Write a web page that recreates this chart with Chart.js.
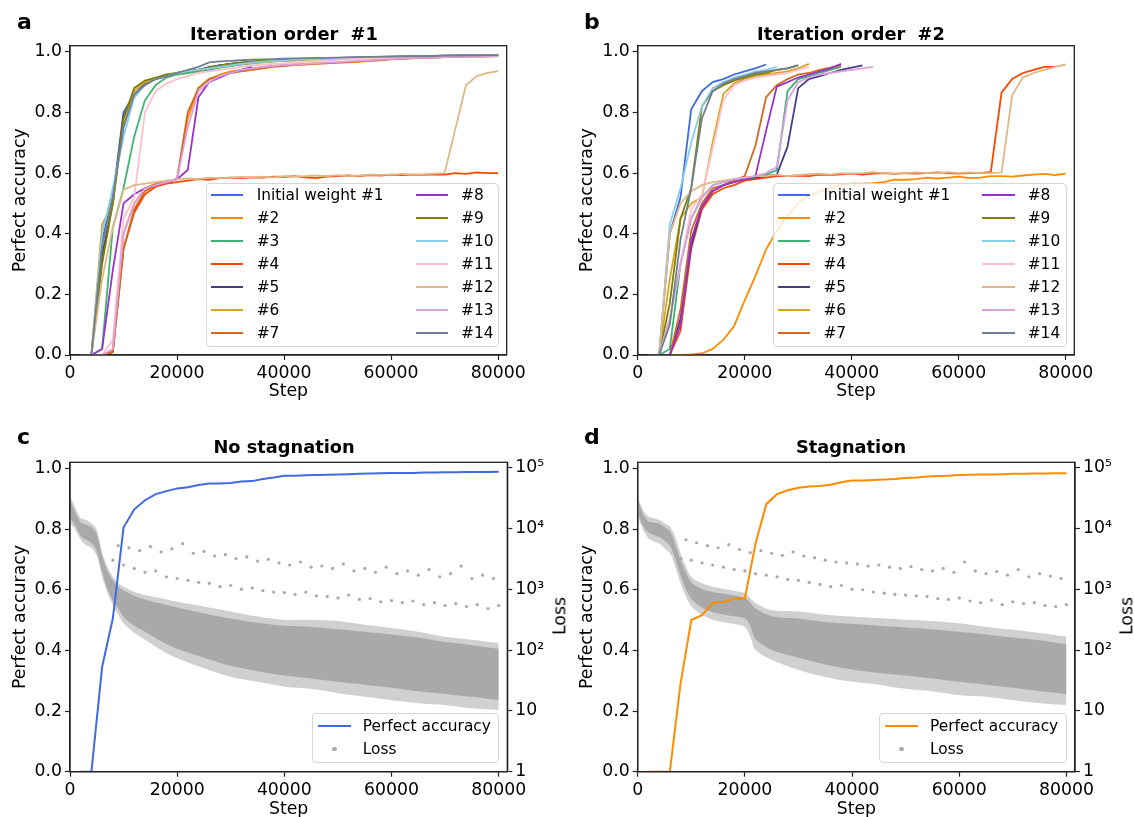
<!DOCTYPE html>
<html lang="en">
<head>
<meta charset="UTF-8">
<title>Perfect accuracy over training steps</title>
<script src="https://cdn.jsdelivr.net/npm/chart.js"></script>
<style>
    body {
        margin: 0;
        width: 1134px;
        height: 817px;
        overflow: hidden;
        position: relative;
        background: #fff;
        font-family: 'DejaVu Sans', sans-serif;
        color: #000;
    }
    canvas { position: absolute; }
    .letter { position: absolute; font-weight: bold; font-size: 22px; line-height: 1; }
    .title { position: absolute; font-weight: bold; font-size: 17.8px; line-height: 1; white-space: pre; transform: translateX(-50%); }
    .ylab2 { position: absolute; font-size: 17.3px; line-height: 1; transform: translate(-50%, -50%) rotate(-90deg); }
    .legend { position: absolute; box-sizing: border-box; background: rgba(255,255,255,0.8); border: 1px solid #d6d6d6; border-radius: 4px; z-index: 2; }
    .legend span { position: absolute; font-size: 15.4px; line-height: 1; white-space: pre; }
    .legend i { position: absolute; height: 2px; }
    .legend b { position: absolute; width: 4.4px; height: 4.4px; border-radius: 50%; background: #a9a9a9; }
</style>
</head>
<body>
<canvas id="ca" width="567" height="410" style="left:0;top:0"></canvas>
<canvas id="cb" width="567" height="410" style="left:567px;top:0"></canvas>
<canvas id="cc" width="567" height="410" style="left:0;top:410px"></canvas>
<canvas id="cd" width="567" height="410" style="left:567px;top:410px"></canvas>

<div class="letter" style="left:17px;top:10.5px">a</div>
<div class="letter" style="left:584px;top:10.5px">b</div>
<div class="letter" style="left:17px;top:426px">c</div>
<div class="letter" style="left:584px;top:426px">d</div>

<div class="title" style="left:284px;top:25px">Iteration order  #1</div>
<div class="title" style="left:851px;top:25px">Iteration order  #2</div>
<div class="title" style="left:284px;top:438px">No stagnation</div>
<div class="title" style="left:851px;top:438px">Stagnation</div>

<div class="ylab2" style="left:560px;top:616px">Loss</div>
<div class="ylab2" style="left:1127px;top:616px">Loss</div>

<script>
// evaluation steps (every 2000)
const steps = [2000, 4000, 6000, 8000, 10000, 12000, 14000, 16000, 18000, 20000,
    22000, 24000, 26000, 28000, 30000, 32000, 34000, 36000, 38000, 40000,
    42000, 44000, 46000, 48000, 50000, 52000, 54000, 56000, 58000, 60000,
    62000, 64000, 66000, 68000, 70000, 72000, 74000, 76000, 78000, 80000];

const xTicks = [0, 20000, 40000, 60000, 80000];
const yTicks = [0, 0.2, 0.4, 0.6, 0.8, 1.0];
const lossTicks = [1, 10, 100, 1000, 10000, 100000];
const lossTickLabels = ['1', '10', '10²', '10³', '10⁴', '10⁵'];

const names = ['Initial weight #1', '#2', '#3', '#4', '#5', '#6', '#7',
    '#8', '#9', '#10', '#11', '#12', '#13', '#14'];
const colors = ['#4169e1', '#ff8c00', '#3cb371', '#ff4500', '#483d8b', '#daa520', '#d2691e',
    '#9932cc', '#808000', '#87ceeb', '#ffc0cb', '#deb887', '#dda0dd', '#708090'];

// ---- panel a: iteration order #1 ----
const a1 = [0, 0, 0.38, 0.52, 0.80, 0.86, 0.895, 0.91, 0.92, 0.93, 0.935, 0.94, 0.95, 0.955, 0.96, 0.963, 0.966, 0.968, 0.97, 0.972, 0.974, 0.976, 0.977, 0.978, 0.979, 0.98, 0.981, 0.982, 0.983, 0.984, 0.985, 0.985, 0.986, 0.986, 0.987, 0.988, 0.988, 0.989, 0.989, 0.99];
const a2 = [0, 0, 0, 0.01, 0.40, 0.50, 0.55, 0.565, 0.57, 0.58, 0.78, 0.88, 0.91, 0.925, 0.935, 0.94, 0.945, 0.95, 0.953, 0.956, 0.958, 0.96, 0.962, 0.963, 0.964, 0.965, 0.967, 0.97, 0.973, 0.976, 0.978, 0.979, 0.98, 0.981, 0.982, 0.983, 0.984, 0.985, 0.985, 0.986];
const a3 = [0, 0, 0.02, 0.42, 0.55, 0.72, 0.84, 0.89, 0.915, 0.925, 0.93, 0.935, 0.94, 0.948, 0.953, 0.958, 0.962, 0.965, 0.968, 0.97, 0.972, 0.974, 0.975, 0.976, 0.977, 0.978, 0.979, 0.98, 0.981, 0.982, 0.983, 0.983, 0.984, 0.985, 0.985, 0.986, 0.987, 0.987, 0.988, 0.988];
const a4 = [0, 0, 0, 0.01, 0.35, 0.47, 0.53, 0.555, 0.565, 0.57, 0.575, 0.58, 0.578, 0.583, 0.585, 0.583, 0.586, 0.585, 0.588, 0.587, 0.59, 0.586, 0.583, 0.588, 0.59, 0.592, 0.59, 0.593, 0.592, 0.595, 0.593, 0.595, 0.594, 0.596, 0.595, 0.6, 0.597, 0.602, 0.6, 0.6];
const a5 = [0, 0, 0.33, 0.50, 0.79, 0.85, 0.895, 0.91, 0.92, 0.93, 0.935, 0.94, 0.948, 0.955, 0.96, 0.964, 0.967, 0.97, 0.972, 0.974, 0.975, 0.976, 0.977, 0.978, 0.979, 0.98, 0.981, 0.982, 0.983, 0.983, 0.984, 0.985, 0.985, 0.986, 0.986, 0.987, 0.987, 0.988, 0.988, 0.989];
const a6 = [0, 0, 0.43, 0.50, 0.76, 0.87, 0.90, 0.91, 0.92, 0.93, 0.935, 0.94, 0.945, 0.95, 0.955, 0.96, 0.963, 0.966, 0.968, 0.97, 0.972, 0.974, 0.975, 0.976, 0.977, 0.978, 0.979, 0.98, 0.981, 0.982, 0.983, 0.983, 0.984, 0.985, 0.985, 0.986, 0.986, 0.987, 0.988, 0.988];
const a7 = [0, 0, 0, 0.01, 0.35, 0.48, 0.54, 0.56, 0.57, 0.58, 0.80, 0.88, 0.91, 0.92, 0.93, 0.935, 0.94, 0.945, 0.95, 0.953, 0.956, 0.958, 0.96, 0.962, 0.964, 0.966, 0.968, 0.97, 0.972, 0.975, 0.977, 0.978, 0.98, 0.981, 0.982, 0.983, 0.984, 0.984, 0.985, 0.986];
const a8 = [0, 0, 0.02, 0.28, 0.50, 0.53, 0.55, 0.56, 0.57, 0.58, 0.61, 0.85, 0.90, 0.915, 0.93, 0.94, 0.95];
const a9 = [0, 0, 0.30, 0.50, 0.78, 0.88, 0.905, 0.915, 0.925, 0.93, 0.935, 0.94, 0.948, 0.955, 0.96, 0.964, 0.967, 0.97, 0.972, 0.974, 0.975, 0.976, 0.977, 0.978, 0.979, 0.98, 0.981, 0.982, 0.983, 0.984, 0.984, 0.985, 0.986, 0.986, 0.987, 0.987, 0.988, 0.988, 0.989, 0.989];
const a10 = [0, 0, 0.40, 0.55, 0.72, 0.85, 0.89, 0.91, 0.92, 0.93, 0.935, 0.94, 0.945, 0.95, 0.955, 0.96, 0.964, 0.967, 0.97, 0.972, 0.974, 0.975, 0.976, 0.977, 0.978, 0.979, 0.98, 0.981, 0.982, 0.983, 0.984, 0.984, 0.985, 0.986, 0.986, 0.987, 0.988, 0.988, 0.989, 0.99];
const a11 = [0, 0, 0, 0.05, 0.45, 0.52, 0.80, 0.87, 0.895, 0.91, 0.92, 0.93, 0.935, 0.94, 0.945, 0.95, 0.955, 0.958, 0.96, 0.962, 0.965, 0.967, 0.969, 0.971, 0.973, 0.975, 0.977, 0.978, 0.979, 0.98, 0.981, 0.982, 0.983, 0.983, 0.984, 0.985, 0.985, 0.986, 0.986, 0.987];
const a12 = [0, 0, 0.25, 0.42, 0.545, 0.56, 0.565, 0.57, 0.575, 0.58, 0.582, 0.58, 0.585, 0.583, 0.585, 0.587, 0.585, 0.588, 0.586, 0.59, 0.588, 0.59, 0.592, 0.59, 0.593, 0.59, 0.592, 0.595, 0.594, 0.595, 0.597, 0.595, 0.596, 0.598, 0.6, 0.745, 0.89, 0.92, 0.93, 0.936];
const a13 = [0, 0, 0, 0.02, 0.40, 0.50, 0.55, 0.56, 0.57, 0.58, 0.75, 0.87, 0.90, 0.92, 0.93, 0.94, 0.945, 0.95, 0.953, 0.956, 0.958, 0.96, 0.962, 0.964, 0.966, 0.968, 0.97, 0.972, 0.974, 0.976, 0.978, 0.979, 0.98, 0.981, 0.982, 0.983, 0.984, 0.984, 0.985, 0.986];
const a14 = [0, 0, 0.36, 0.52, 0.75, 0.86, 0.89, 0.91, 0.92, 0.93, 0.94, 0.95, 0.965, 0.968, 0.97, 0.972, 0.974, 0.975, 0.976, 0.977, 0.978, 0.979, 0.98, 0.98, 0.981, 0.982, 0.982, 0.983, 0.984, 0.984, 0.985, 0.985, 0.986, 0.986, 0.987, 0.987, 0.988, 0.988, 0.989, 0.989];

// ---- panel b: iteration order #2 (runs stop at different steps) ----
const b1 = [0, 0, 0.40, 0.52, 0.81, 0.87, 0.90, 0.91, 0.925, 0.935, 0.945, 0.958];
const b2 = [0, 0, 0, 0, 0.002, 0.005, 0.02, 0.05, 0.095, 0.18, 0.26, 0.348, 0.41, 0.46, 0.50, 0.525, 0.54, 0.55, 0.56, 0.565, 0.565, 0.567, 0.57, 0.578, 0.578, 0.58, 0.585, 0.582, 0.585, 0.588, 0.583, 0.585, 0.59, 0.59, 0.588, 0.592, 0.595, 0.597, 0.593, 0.598];
const b3 = [0, 0, 0.02, 0.30, 0.45, 0.52, 0.56, 0.57, 0.575, 0.58, 0.59, 0.595, 0.61, 0.87, 0.91, 0.92, 0.93, 0.94, 0.95];
const b4 = [0, 0, 0, 0.08, 0.35, 0.48, 0.53, 0.55, 0.56, 0.575, 0.58, 0.585, 0.59, 0.59, 0.592, 0.59, 0.595, 0.593, 0.596, 0.598, 0.595, 0.598, 0.60, 0.597, 0.60, 0.598, 0.60, 0.602, 0.60, 0.598, 0.60, 0.60, 0.604, 0.865, 0.91, 0.93, 0.94, 0.95, 0.95];
const b5 = [0, 0, 0, 0.12, 0.36, 0.49, 0.54, 0.56, 0.57, 0.58, 0.585, 0.59, 0.595, 0.687, 0.88, 0.91, 0.92, 0.93, 0.94, 0.948, 0.955];
const b6 = [0, 0, 0.25, 0.45, 0.50, 0.52, 0.70, 0.86, 0.895, 0.91, 0.92, 0.925, 0.93, 0.935, 0.945, 0.96];
const b7 = [0, 0, 0, 0.15, 0.41, 0.50, 0.55, 0.56, 0.575, 0.59, 0.69, 0.85, 0.89, 0.91, 0.925, 0.93, 0.94, 0.948, 0.955];
const b8 = [0, 0, 0, 0.10, 0.38, 0.49, 0.54, 0.56, 0.57, 0.58, 0.59, 0.74, 0.885, 0.90, 0.915, 0.925, 0.935, 0.945, 0.96];
const b9 = [0, 0, 0.17, 0.45, 0.55, 0.82, 0.87, 0.89, 0.905, 0.915, 0.925, 0.93, 0.94, 0.945, 0.955];
const b10 = [0, 0, 0.43, 0.55, 0.70, 0.82, 0.88, 0.90, 0.915, 0.925, 0.935, 0.94, 0.95];
const b11 = [0, 0, 0.12, 0.30, 0.48, 0.53, 0.68, 0.84, 0.89, 0.905, 0.915, 0.92, 0.925, 0.93, 0.94, 0.95];
const b12 = [0, 0, 0.40, 0.50, 0.54, 0.56, 0.57, 0.575, 0.58, 0.585, 0.59, 0.59, 0.595, 0.59, 0.593, 0.596, 0.598, 0.595, 0.60, 0.598, 0.60, 0.603, 0.60, 0.598, 0.60, 0.602, 0.60, 0.60, 0.603, 0.60, 0.602, 0.60, 0.60, 0.602, 0.857, 0.915, 0.93, 0.94, 0.95, 0.958];
const b13 = [0, 0, 0.12, 0.30, 0.45, 0.52, 0.56, 0.57, 0.58, 0.585, 0.59, 0.60, 0.62, 0.84, 0.90, 0.915, 0.925, 0.93, 0.935, 0.94, 0.945, 0.95];
const b14 = [0, 0, 0.10, 0.38, 0.55, 0.78, 0.87, 0.895, 0.91, 0.92, 0.93, 0.935, 0.94, 0.945, 0.956];

// ---- panels c / d: accuracy of one run ----
const accC = [0, 0, 0.346, 0.506, 0.806, 0.865, 0.895, 0.915, 0.925, 0.934, 0.938, 0.945, 0.95, 0.95, 0.952, 0.957, 0.958, 0.965, 0.97, 0.976, 0.976, 0.977, 0.978, 0.979, 0.98, 0.981, 0.982, 0.983, 0.984, 0.985, 0.985, 0.985, 0.986, 0.986, 0.987, 0.987, 0.988, 0.988, 0.988, 0.989];
const accD = [0, 0, 0, 0.291, 0.50, 0.516, 0.557, 0.56, 0.57, 0.572, 0.753, 0.882, 0.915, 0.928, 0.936, 0.94, 0.942, 0.946, 0.954, 0.96, 0.96, 0.962, 0.963, 0.965, 0.968, 0.97, 0.973, 0.975, 0.976, 0.978, 0.979, 0.98, 0.98, 0.981, 0.982, 0.982, 0.983, 0.983, 0.984, 0.984];

// loss cloud, read as envelopes of the dense band (outer = sparse edge, inner = solid core)
const lossStepsC = [0, 1000, 2000, 3000, 4000, 5000, 6000, 7000, 8000, 9000, 10000, 12000, 14000, 17000, 20000, 25000, 30000, 35000, 40000, 45000, 50000, 55000, 60000, 65000, 70000, 75000, 80000];
const outerHiC = [35000, 22000, 14800, 13800, 12000, 9500, 4000, 2350, 1600, 1250, 1100, 910, 800, 710, 620, 520, 430, 355, 315, 315, 300, 260, 230, 200, 165, 148, 130];
const outerLoC = [12000, 9500, 6500, 5300, 4800, 3500, 1600, 860, 550, 380, 275, 190, 148, 100, 73, 50, 36, 30, 25, 23, 19.5, 17, 15, 13.4, 12.5, 11, 10.3];
const innerHiC = [30000, 18000, 12500, 11500, 10500, 8000, 3500, 2000, 1400, 1100, 950, 780, 680, 580, 500, 400, 330, 280, 250, 240, 220, 200, 180, 160, 135, 120, 105];
const innerLoC = [15000, 11000, 7500, 6500, 5800, 4200, 1900, 1000, 650, 480, 350, 250, 200, 140, 105, 75, 55, 45, 38, 34, 30, 27, 24, 21, 19, 17, 15];

const lossStepsD = [0, 1000, 2000, 3000, 4000, 5000, 6000, 7000, 8000, 9000, 10000, 12000, 14000, 17000, 20000, 21000, 22000, 25000, 30000, 35000, 40000, 45000, 50000, 55000, 60000, 65000, 70000, 75000, 80000];
const outerHiD = [33000, 20000, 15700, 14800, 13800, 12200, 10700, 7300, 3900, 2350, 1600, 1250, 1100, 980, 860, 710, 590, 455, 430, 380, 355, 335, 315, 300, 275, 240, 215, 190, 165];
const outerLoD = [15700, 9500, 6900, 6100, 5700, 4700, 3900, 2350, 1250, 750, 520, 380, 315, 275, 240, 165, 100, 69, 47, 36, 30, 27, 23, 21, 18, 17, 15, 13.4, 12.5];
const innerHiD = [30000, 17000, 13000, 12500, 12000, 10500, 9000, 5500, 3000, 1900, 1300, 1000, 900, 820, 720, 600, 480, 360, 330, 290, 270, 250, 235, 220, 200, 180, 160, 145, 125];
const innerLoD = [18000, 11000, 8500, 7800, 7200, 6300, 5200, 3200, 1700, 1000, 700, 500, 420, 370, 330, 250, 150, 100, 75, 58, 48, 42, 38, 34, 30, 27, 24, 21, 19];

// sparse outlier losses, two bands above the main cloud
const sparseHiSteps = [9000, 11000, 13000, 15000, 17000, 19000, 21000, 23000, 25000, 27000, 29000, 31000, 33000, 35000, 37000, 39000, 41000, 43000, 45000, 47000, 49000, 51000, 53000, 55000, 57000, 59000, 61000, 63000, 65000, 67000, 69000, 71000, 73000, 75000, 77000, 79000];
const sparseLoSteps = [8000, 10000, 12000, 14000, 16000, 18000, 20000, 22000, 24000, 26000, 28000, 30000, 32000, 34000, 36000, 38000, 40000, 42000, 44000, 46000, 48000, 50000, 52000, 54000, 56000, 58000, 60000, 62000, 64000, 66000, 68000, 70000, 72000, 74000, 76000, 78000, 80000];
const sparseHiC = [5200, 4800, 4300, 5000, 4100, 4600, 5600, 3900, 4200, 3500, 3700, 3200, 3400, 2900, 3100, 2700, 2500, 2800, 2300, 2400, 2200, 2600, 2000, 2200, 1900, 2300, 1800, 2000, 1700, 2100, 1600, 1800, 2400, 1500, 1700, 1500];
const sparseLoC = [3000, 2500, 2200, 1900, 2000, 1600, 1500, 1400, 1300, 1250, 1100, 1150, 1000, 1050, 950, 900, 880, 820, 900, 780, 760, 720, 800, 680, 700, 620, 650, 600, 640, 560, 600, 540, 580, 520, 560, 480, 540];
const sparseHiD = [6500, 5800, 5200, 4800, 5400, 4500, 4000, 4300, 3900, 3600, 4100, 3500, 3300, 3000, 2800, 2700, 2600, 2400, 2500, 2300, 2200, 2350, 2100, 2000, 2200, 1900, 2800, 2000, 1800, 1950, 1700, 2100, 1600, 1800, 1650, 1500];
const sparseLoD = [3200, 3000, 2700, 2500, 2300, 2100, 2000, 1800, 1700, 1600, 1450, 1400, 1300, 1200, 1100, 1150, 1000, 980, 900, 860, 820, 800, 780, 760, 700, 680, 720, 640, 600, 660, 560, 620, 580, 600, 540, 520, 560];

const seriesA = [a1, a2, a3, a4, a5, a6, a7, a8, a9, a10, a11, a12, a13, a14];
const seriesB = [b1, b2, b3, b4, b5, b6, b7, b8, b9, b10, b11, b12, b13, b14];

Chart.defaults.font.family = "'DejaVu Sans', sans-serif";
Chart.defaults.color = '#000';

const TICK = 17.3;
const SPINE = '#222';

const boxPlugin = {
    id: 'box',
    afterDraw(chart) {
        const {ctx, chartArea: a} = chart;
        ctx.save();
        ctx.strokeStyle = SPINE;
        ctx.lineWidth = 1.3;
        ctx.strokeRect(a.left, a.top, a.right - a.left, a.bottom - a.top);
        ctx.restore();
    }
};

function gridOpts() {
    return { drawOnChartArea: false, drawTicks: true, tickLength: 5, tickColor: SPINE, tickWidth: 1.2 };
}

function xScale(h, pad) {
    return {
        type: 'linear', min: 0, max: 81600,
        afterBuildTicks: s => { s.ticks = xTicks.map(v => ({ value: v })); },
        afterFit: s => { s.height = h; },
        ticks: { font: { size: TICK }, padding: 3, autoSkip: false, maxRotation: 0, callback: v => String(v) },
        grid: gridOpts(),
        border: { display: true, color: SPINE, width: 1.3 },
        title: { display: true, text: 'Step', font: { size: TICK }, padding: { top: 0, bottom: pad } }
    };
}

function yScale(w) {
    return {
        type: 'linear', min: 0, max: 1.02, position: 'left',
        afterBuildTicks: s => { s.ticks = yTicks.map(v => ({ value: v })); },
        afterFit: s => { s.width = w; },
        ticks: { font: { size: TICK }, padding: 3, autoSkip: false, callback: v => v.toFixed(1) },
        grid: gridOpts(),
        border: { display: true, color: SPINE, width: 1.3 },
        title: { display: true, text: 'Perfect accuracy', font: { size: TICK }, padding: { top: 10, bottom: 0 } }
    };
}

function lossScale(w) {
    return {
        type: 'logarithmic', min: 1, max: 122000, position: 'right',
        afterBuildTicks: s => { s.ticks = lossTicks.map(v => ({ value: v, major: true })); },
        afterFit: s => { s.width = w; },
        ticks: { font: { size: TICK }, padding: 3, autoSkip: false, callback: v => lossTickLabels[lossTicks.indexOf(v)] },
        grid: gridOpts(),
        border: { display: true, color: SPINE, width: 1.3 }
    };
}

function lineSet(arr, color, order) {
    return {
        data: arr.map((v, i) => ({ x: steps[i], y: v })),
        borderColor: color, backgroundColor: color,
        borderWidth: 1.8, pointRadius: 0, tension: 0, fill: false,
        order: order, yAxisID: 'y'
    };
}

function bandSet(xs, ys, fill, color) {
    return {
        data: ys.map((v, i) => ({ x: xs[i], y: v })),
        borderColor: 'transparent', borderWidth: 0, pointRadius: 0, tension: 0.3,
        backgroundColor: color, fill: fill, order: 3, yAxisID: 'y2'
    };
}

function dotSet(xs, ys) {
    return {
        data: ys.map((v, i) => ({ x: xs[i], y: v })),
        showLine: false, pointRadius: 1.6, pointBorderWidth: 0,
        pointBackgroundColor: '#a9a9a9', borderColor: '#a9a9a9',
        order: 2, yAxisID: 'y2'
    };
}

function baseOptions(padding) {
    return {
        responsive: false, animation: false, devicePixelRatio: 1, events: [],
        layout: { padding: padding },
        plugins: { legend: { display: false }, tooltip: { enabled: false } }
    };
}

function accChart(id, series, yWidth, rightPad) {
    const opts = baseOptions({ top: 45.7, right: rightPad, bottom: 0, left: 0 });
    opts.scales = { x: xScale(55, 8), y: yScale(yWidth) };
    new Chart(document.getElementById(id), {
        type: 'line',
        data: { datasets: series.map((arr, i) => lineSet(arr, colors[i], 14 - i)) },
        options: opts,
        plugins: [boxPlugin]
    });
}

function lossChart(id, acc, color, ls, oHi, oLo, iHi, iLo, hi, lo, yWidth, rWidth) {
    const opts = baseOptions({ top: 52.3, right: 0, bottom: 0, left: 0 });
    opts.scales = { x: xScale(48.3, 0), y: yScale(yWidth), y2: lossScale(rWidth) };
    const accSet = lineSet(acc, color, 0);
    accSet.borderWidth = 2;
    new Chart(document.getElementById(id), {
        type: 'line',
        data: { datasets: [
            accSet,
            bandSet(ls, oLo, false, 'transparent'),
            bandSet(ls, oHi, '-1', 'rgba(169,169,169,0.55)'),
            bandSet(ls, iLo, false, 'transparent'),
            bandSet(ls, iHi, '-1', '#a9a9a9'),
            dotSet(sparseHiSteps, hi),
            dotSet(sparseLoSteps, lo)
        ] },
        options: opts,
        plugins: [boxPlugin]
    });
}

accChart('ca', seriesA, 70, 60.3);
accChart('cb', seriesB, 70.7, 59.7);
lossChart('cc', accC, '#4169e1', lossStepsC, outerHiC, outerLoC, innerHiC, innerLoC, sparseHiC, sparseLoC, 70, 59.7);
lossChart('cd', accD, '#ff8c00', lossStepsD, outerHiD, outerLoD, innerHiD, innerLoD, sparseHiD, sparseLoD, 70.7, 59);

// ---- legends (matplotlib-style boxes inside the axes) ----
function makeLegend(left, top, width, height, entries) {
    const box = document.createElement('div');
    box.className = 'legend';
    Object.assign(box.style, { left: left + 'px', top: top + 'px', width: width + 'px', height: height + 'px' });
    entries.forEach(e => {
        if (e.dot) {
            const d = document.createElement('b');
            Object.assign(d.style, { left: (e.x0 + e.x1) / 2 - 2.2 + 'px', top: e.cy - 2.2 + 'px' });
            box.appendChild(d);
        } else {
            const l = document.createElement('i');
            Object.assign(l.style, { left: e.x0 + 'px', width: e.x1 - e.x0 + 'px', top: e.cy - 1 + 'px', background: e.color });
            box.appendChild(l);
        }
        const t = document.createElement('span');
        t.textContent = e.label;
        Object.assign(t.style, { left: e.tx + 'px', top: e.cy - 7.4 + 'px' });
        box.appendChild(t);
    });
    document.body.appendChild(box);
}

function fourteen() {
    return names.map((label, i) => {
        const col = i < 7 ? 0 : 1, row = i % 7;
        return {
            label: label, color: colors[i],
            cy: 11.8 + 23 * row,
            x0: col ? 208.7 : 4, x1: col ? 241.3 : 36.3, tx: col ? 254 : 49.7
        };
    });
}

makeLegend(206, 182.7, 293.3, 164.6, fourteen());
makeLegend(772.7, 182.7, 294, 164.6, fourteen());
makeLegend(312.3, 713.3, 187, 50, [
    { label: 'Perfect accuracy', color: '#4169e1', cy: 11.7, x0: 5, x1: 37.4, tx: 49.4 },
    { label: 'Loss', dot: true, cy: 35, x0: 5, x1: 37.4, tx: 49.4 }
]);
makeLegend(879.3, 713.3, 187.4, 50, [
    { label: 'Perfect accuracy', color: '#ff8c00', cy: 11.7, x0: 4.7, x1: 38, tx: 49.7 },
    { label: 'Loss', dot: true, cy: 35, x0: 4.7, x1: 38, tx: 49.7 }
]);
</script>
</body>
</html>
